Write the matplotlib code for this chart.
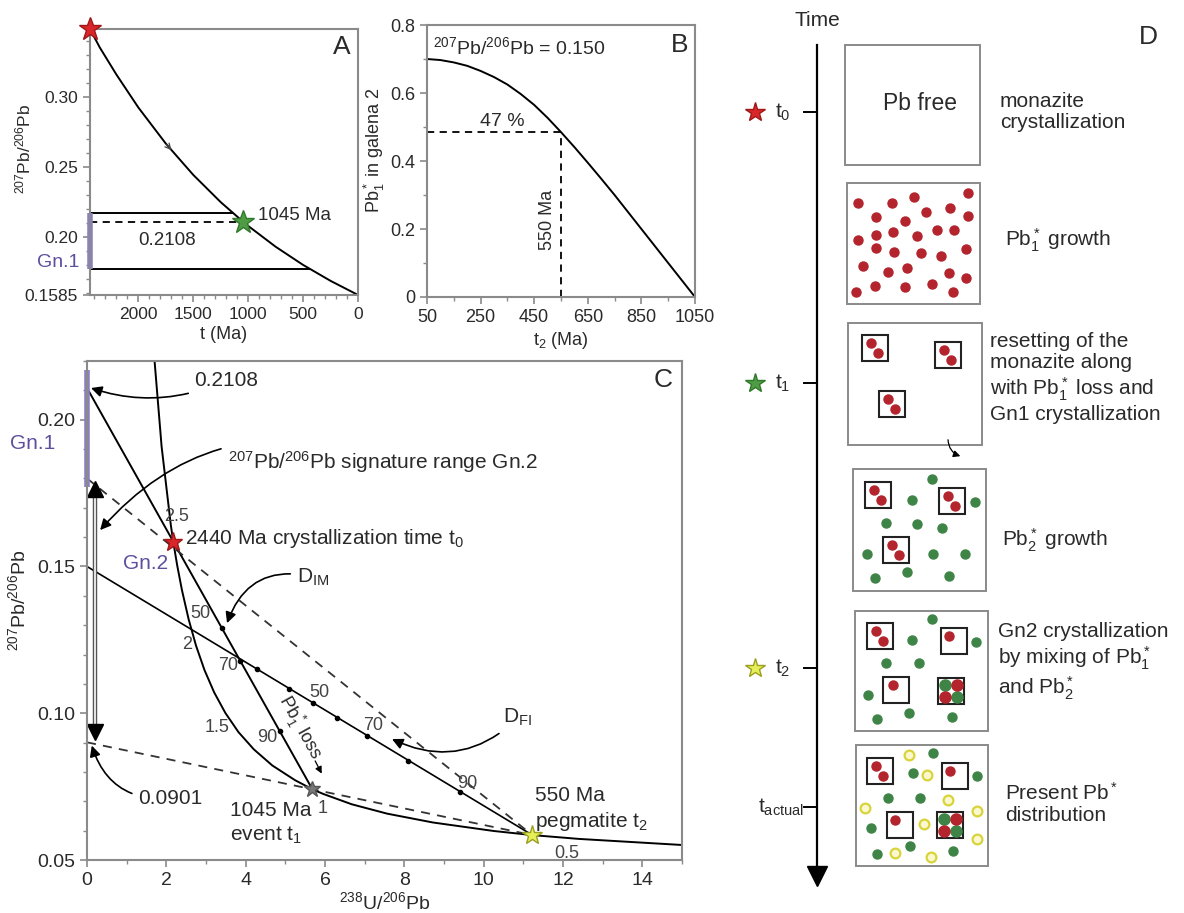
import numpy as np
import matplotlib
matplotlib.use("Agg")
import matplotlib.pyplot as plt
from matplotlib.patches import Rectangle

plt.rcParams['font.family'] = ['Liberation Sans', 'DejaVu Sans']
plt.rcParams['mathtext.fontset'] = 'custom'
plt.rcParams['mathtext.rm'] = 'Liberation Sans'
plt.rcParams['mathtext.it'] = 'Liberation Sans:italic'
plt.rcParams['mathtext.bf'] = 'Liberation Sans:bold'

# --- DATOS ---
# Panel A: 207Pb/206Pb del plomo acumulado entre 2440 Ma y t
A_AGE = [2440, 2350, 2200, 2000, 1750, 1500, 1250, 1045, 1000, 750, 500, 250, 0]
A_RATIO = [0.3487, 0.3354, 0.3162, 0.2926, 0.2668, 0.2444, 0.2249, 0.2108,
           0.2079, 0.1930, 0.1800, 0.1686, 0.1585]
GN1_RANGE = [0.177, 0.217]
GN1_LINE_END = [440, 1135]
T0_AGE = 2440
T1_AGE = 1045
T1_RATIO = 0.2108

# Panel B: fraccion de Pb1* en galena 2 frente a t2
B_T2 = [50, 100, 150, 200, 250, 300, 350, 400, 450, 500, 550, 600, 650, 700,
        750, 800, 850, 900, 950, 1000, 1050]
B_FRAC = [0.700, 0.697, 0.690, 0.680, 0.665, 0.647, 0.625, 0.597, 0.565, 0.527,
          0.485, 0.441, 0.395, 0.348, 0.300, 0.250, 0.200, 0.150, 0.100, 0.050, 0.0]
T2_AGE = 550
T2_FRAC = 0.485
MIX_RATIO = 0.150

# Panel C: diagrama Tera-Wasserburg
CONC_X = [1.687, 1.880, 2.111, 2.173, 2.273, 2.394, 2.562, 2.749, 2.962, 3.206,
          3.488, 3.817, 4.206, 4.673, 5.245, 5.682, 5.959, 6.674, 7.568, 8.718,
          10.252, 11.227, 12.40, 15.04]
CONC_Y = [0.2226, 0.1909, 0.1643, 0.1585, 0.1504, 0.1419, 0.1320, 0.1230, 0.1147,
          0.1071, 0.1001, 0.0936, 0.0877, 0.0822, 0.0772, 0.0741, 0.0725, 0.0690,
          0.0658, 0.0628, 0.0599, 0.0585, 0.0572, 0.0551]
T0_PT = (2.173, 0.1585)
T1_PT = (5.682, 0.0741)
T2_PT = (11.227, 0.0585)
INTERCEPT_PB1 = 0.2108
INTERCEPT_UP = 0.180
INTERCEPT_LOW = 0.0901
INTERCEPT_MIX = 0.150
DIM_DOTS_X = [3.40, 3.86, 4.86]
DIM_DOTS_Y = [0.1290, 0.1179, 0.0938]
DFI_DOTS_X = [4.28, 5.10, 5.70, 6.30, 7.05, 8.10, 9.40]
DFI_DOTS_Y = [0.1150, 0.1083, 0.1034, 0.0985, 0.0924, 0.0838, 0.0732]

# Panel D: esquema (coordenadas en pixeles de la figura)
BOXES = [(845, 45, 135, 120), (847, 183, 133, 121), (848, 323, 134, 122),
         (853, 469, 133, 122), (855, 611, 133, 120), (856, 745, 132, 121)]
TIME_Y = [112, 383, 668, 807]
RED_DOTS_2 = [(858, 203), (892, 203), (914, 197), (950, 208), (968, 193), (876, 217),
              (926, 212), (905, 221), (968, 216), (937, 230), (954, 230), (858, 240),
              (876, 235), (893, 232), (917, 236), (876, 248), (894, 252), (921, 253),
              (941, 256), (966, 249), (863, 266), (907, 268), (888, 272), (949, 273),
              (966, 278), (856, 292), (875, 286), (905, 287), (932, 284), (953, 292)]
SQ_3 = [(862, 335), (935, 342), (879, 391)]
SQ_4 = [(865, 482), (939, 488), (883, 537)]
SQ_5 = [(867, 623), (941, 628), (883, 677)]
SQ_5_MIX = (938, 678)
SQ_6 = [(867, 758), (942, 763), (887, 812)]
SQ_6_MIX = (937, 812)
GREEN_4 = [(932, 479), (912, 500), (975, 502), (886, 523), (917, 524), (942, 528),
           (867, 554), (933, 554), (965, 554), (875, 578), (907, 572), (949, 576)]
GREEN_5 = [(932, 619), (912, 640), (976, 642), (886, 663), (919, 663), (868, 695),
           (909, 713), (877, 719), (952, 717)]
GREEN_6 = [(933, 753), (913, 773), (977, 776), (888, 798), (920, 798), (871, 828),
           (910, 846), (877, 854), (953, 851)]
YELLOW_6 = [(909, 755), (927, 775), (948, 800), (865, 808), (924, 824), (977, 811),
            (977, 839), (895, 853), (931, 857)]

GRAY = '#8a8a8a'
TXT = '#2a2a2a'
PURPLE = '#5e4f9e'
PURPLE_BAR = '#8b7fc4'
RED = '#d8262b'
DOT_RED = '#b3242c'
GREEN = '#4f9c45'
DOT_GREEN = '#3f8447'
YELLOW = '#e6ee58'


def estilo(ax, size):
    for s in ax.spines.values():
        s.set_color(GRAY)
        s.set_linewidth(1.5)
    ax.tick_params(which='both', direction='out', color=GRAY, labelcolor=TXT,
                   labelsize=size)
    ax.tick_params(which='major', length=5, width=1.2)
    ax.tick_params(which='minor', length=3, width=1.0)


fig = plt.figure(figsize=(11.84, 9.13), dpi=100)

# --- PANEL A ---
axA = fig.add_axes([0.0760, 0.6769, 0.2264, 0.2913])
estilo(axA, 12.5)
axA.plot(A_AGE, A_RATIO, color='k', lw=1.4)
axA.set_xlim(2440, 0)
axA.set_ylim(0.1585, 0.3487)
axA.set_xticks([2000, 1500, 1000, 500, 0])
axA.set_xticks(np.arange(0, 2441, 100), minor=True)
axA.set_yticks([0.1585, 0.20, 0.25, 0.30])
axA.set_yticklabels(['0.1585', '0.20', '0.25', '0.30'])
axA.set_yticks(np.arange(0.16, 0.35, 0.01), minor=True)
axA.hlines(GN1_RANGE[1], T0_AGE, GN1_LINE_END[1], color='k', lw=1.4)
axA.hlines(GN1_RANGE[0], T0_AGE, GN1_LINE_END[0], color='k', lw=1.4)
axA.hlines(T1_RATIO, T0_AGE, T1_AGE, color='k', lw=1.3, linestyles=(0, (4, 3)))
axA.plot([T0_AGE, T0_AGE], GN1_RANGE, color=PURPLE_BAR, lw=4, clip_on=False,
         solid_capstyle='butt')
axA.plot(T0_AGE, A_RATIO[0], marker='*', ms=17, color=RED, mec='#a01818',
         clip_on=False, zorder=5)
axA.plot(T1_AGE, T1_RATIO, marker='*', ms=17, color=GREEN, mec='#2f7a2a', zorder=5)
axA.annotate('', xy=(1680, 0.2606), xytext=(1760, 0.2676),
             arrowprops=dict(arrowstyle='->', lw=0.9, color='#444'))
axA.text(910, 0.2157, '1045 Ma', fontsize=13.5, color=TXT, va='center', ha='left')
axA.text(1739, 0.1978, '0.2108', fontsize=13.5, color=TXT, va='center', ha='center')
axA.text(2540, 0.1815, 'Gn.1', fontsize=14, color=PURPLE, va='center', ha='right',
         clip_on=False)
axA.text(146, 0.3358, 'A', fontsize=19, color=TXT, va='center', ha='center')
axA.set_ylabel(r'$^{207}$Pb/$^{206}$Pb', fontsize=12.5, color=TXT)
axA.yaxis.set_label_coords(-0.21, 0.55)
axA.set_xlabel('t (Ma)', fontsize=13, color=TXT, labelpad=3)

# --- PANEL B ---
axB = fig.add_axes([0.3606, 0.6747, 0.2264, 0.2979])
estilo(axB, 13)
axB.plot(B_T2, B_FRAC, color='k', lw=1.4)
axB.set_xlim(50, 1050)
axB.set_ylim(0, 0.8)
axB.set_xticks([50, 250, 450, 650, 850, 1050])
axB.set_xticks([150, 350, 550, 750, 950], minor=True)
axB.set_yticks([0, 0.2, 0.4, 0.6, 0.8])
axB.set_yticklabels(['0', '0.2', '0.4', '0.6', '0.8'])
axB.set_yticks([0.1, 0.3, 0.5, 0.7], minor=True)
axB.hlines(T2_FRAC, 50, T2_AGE, color='k', lw=1.3, linestyles=(0, (4, 3)))
axB.vlines(T2_AGE, 0, T2_FRAC, color='k', lw=1.3, linestyles=(0, (4, 3)))
axB.text(72, 0.735, r'$^{207}$Pb/$^{206}$Pb = 0.150', fontsize=14, color=TXT,
         va='center', ha='left')
axB.text(330, 0.515, '47 %', fontsize=14, color=TXT, va='center', ha='center')
axB.text(500, 0.226, '550 Ma', fontsize=13, color=TXT, va='center', ha='center',
         rotation=90)
axB.text(994, 0.741, 'B', fontsize=19, color=TXT, va='center', ha='center')
axB.set_ylabel(r'Pb$_1^*$ in galena 2', fontsize=13, color=TXT)
axB.yaxis.set_label_coords(-0.15, 0.54)
axB.set_xlabel(r't$_2$ (Ma)', fontsize=13, color=TXT, labelpad=3)

# --- PANEL C ---
axC = fig.add_axes([0.0735, 0.0580, 0.5025, 0.5466])
estilo(axC, 14)
axC.set_xlim(0, 15)
axC.set_ylim(0.05, 0.22)
axC.set_xticks(np.arange(0, 15, 2))
axC.set_xticks(np.arange(0, 16, 1), minor=True)
axC.set_yticks([0.05, 0.10, 0.15, 0.20])
axC.set_yticklabels(['0.05', '0.10', '0.15', '0.20'])
axC.set_yticks(np.arange(0.05, 0.221, 0.01), minor=True)

axC.plot(CONC_X, CONC_Y, color='k', lw=1.4)
axC.plot([0, T1_PT[0]], [INTERCEPT_PB1, T1_PT[1]], color='k', lw=1.4)
axC.plot([0, T2_PT[0]], [INTERCEPT_MIX, T2_PT[1]], color='k', lw=1.2)
axC.plot([0, T2_PT[0]], [INTERCEPT_UP, T2_PT[1]], color='#333', lw=1.3,
         ls=(0, (5, 4)))
axC.plot([0, T2_PT[0]], [INTERCEPT_LOW, T2_PT[1]], color='#333', lw=1.3,
         ls=(0, (5, 4)))
axC.plot(DIM_DOTS_X, DIM_DOTS_Y, 'o', color='k', ms=3)
axC.plot(DFI_DOTS_X, DFI_DOTS_Y, 'o', color='k', ms=3)
axC.plot([0, 0], GN1_RANGE, color=PURPLE_BAR, lw=4, clip_on=False,
         solid_capstyle='butt')
# rango Gn.2
axC.plot([0.2, 0.2], [INTERCEPT_LOW + 0.004, INTERCEPT_UP - 0.004], color='#555',
         lw=3.2, solid_capstyle='butt')
axC.plot([0.2, 0.2], [INTERCEPT_LOW + 0.004, INTERCEPT_UP - 0.004], color='white',
         lw=1.2, solid_capstyle='butt')
axC.plot(0.2, INTERCEPT_UP - 0.0035, marker='^', ms=11, color='k')
axC.plot(0.2, INTERCEPT_LOW + 0.0035, marker='v', ms=11, color='k')

axC.plot(*T0_PT, marker='*', ms=14, color=RED, mec='#a01818', zorder=5)
axC.plot(*T1_PT, marker='*', ms=12, color='#777777', mec='#555', zorder=5)
axC.plot(*T2_PT, marker='*', ms=15, color=YELLOW, mec='#9aa020', zorder=5)

arw = dict(arrowstyle='-|>', color='k', lw=1.2, mutation_scale=16, shrinkA=3,
           shrinkB=0)
axC.annotate('0.2108', xy=(0.1, INTERCEPT_PB1), xytext=(2.7, 0.2135), fontsize=15,
             color=TXT, va='center', ha='left',
             arrowprops=dict(arw, connectionstyle='arc3,rad=-0.2'))
axC.annotate(r'$^{207}$Pb/$^{206}$Pb signature range Gn.2', xy=(0.33, 0.1624),
             xytext=(3.55, 0.1856), fontsize=15, color=TXT, va='center', ha='left',
             arrowprops=dict(arw, connectionstyle='arc3,rad=0.35'))
axC.annotate(r'D$_{\rm IM}$', xy=(3.53, 0.1307), xytext=(5.3, 0.1464), fontsize=15,
             color=TXT, va='center', ha='left',
             arrowprops=dict(arw, connectionstyle='arc3,rad=0.45'))
axC.annotate(r'D$_{\rm FI}$', xy=(7.69, 0.0912), xytext=(10.5, 0.0985), fontsize=15,
             color=TXT, va='center', ha='left',
             arrowprops=dict(arw, connectionstyle='arc3,rad=-0.35'))
axC.annotate('0.0901', xy=(0.12, 0.0890), xytext=(1.3, 0.0711), fontsize=15,
             color=TXT, va='center', ha='left',
             arrowprops=dict(arw, connectionstyle='arc3,rad=-0.4'))
axC.annotate('', xy=(5.95, 0.0786), xytext=(5.72, 0.0846),
             arrowprops=dict(arrowstyle='-|>', color='k', lw=0.9, mutation_scale=10))

axC.text(2.47, 0.1597, r'2440 Ma crystallization time t$_0$', fontsize=15,
         color=TXT, va='center', ha='left')
axC.text(3.6, 0.0670, '1045 Ma', fontsize=15, color=TXT, va='center', ha='left')
axC.text(3.6, 0.0585, r'event t$_1$', fontsize=15, color=TXT, va='center', ha='left')
axC.text(11.3, 0.0721, '550 Ma', fontsize=15, color=TXT, va='center', ha='left')
axC.text(11.3, 0.0630, r'pegmatite t$_2$', fontsize=15, color=TXT, va='center',
         ha='left')
axC.text(5.38, 0.0950, r'Pb$_1^*$ loss', fontsize=13, color=TXT, va='center',
         ha='center', rotation=-61, rotation_mode='anchor')
axC.text(0.9, 0.151, 'Gn.2', fontsize=15, color=PURPLE, va='center', ha='left')
axC.text(-0.8, 0.192, 'Gn.1', fontsize=15, color=PURPLE, va='center', ha='right',
         clip_on=False)
for x, y, s in [(2.27, 0.1669, '2.5'), (2.52, 0.1233, '2'), (3.28, 0.0953, '1.5'),
                (5.95, 0.0677, '1'), (12.1, 0.0524, '0.5'), (2.85, 0.1340, '50'),
                (3.55, 0.1164, '70'), (4.54, 0.0919, '90'), (5.87, 0.1072, '50'),
                (7.21, 0.0960, '70'), (9.58, 0.0762, '90')]:
    axC.text(x, y, s, fontsize=13, color='#444', va='center', ha='center')
axC.text(14.52, 0.2135, 'C', fontsize=19, color=TXT, va='center', ha='center')
axC.set_xlabel(r'$^{238}$U/$^{206}$Pb', fontsize=14, color=TXT, labelpad=2)
axC.set_ylabel(r'$^{207}$Pb/$^{206}$Pb', fontsize=14, color=TXT)
axC.yaxis.set_label_coords(-0.098, 0.52)

# --- PANEL D ---
axD = fig.add_axes([740 / 1184, 0, 444 / 1184, 1])
axD.set_xlim(740, 1184)
axD.set_ylim(913, 0)
axD.axis('off')

axD.text(817, 20, 'Time', fontsize=15, color=TXT, ha='center', va='center')
axD.plot([817, 817], [45, 872], color='k', lw=1.6)
axD.plot(817, 876, marker='v', ms=14, color='k')
for y in TIME_Y:
    axD.plot([804, 817], [y, y], color='k', lw=1.4)
axD.text(783, TIME_Y[0], r't$_0$', fontsize=15, color=TXT, ha='center', va='center')
axD.text(783, TIME_Y[1], r't$_1$', fontsize=15, color=TXT, ha='center', va='center')
axD.text(783, TIME_Y[2], r't$_2$', fontsize=15, color=TXT, ha='center', va='center')
axD.text(758, TIME_Y[3], r't$_{\rm actual}$', fontsize=15, color=TXT, ha='left',
         va='center')
axD.plot(755, TIME_Y[0], marker='*', ms=15, color=RED, mec='#a01818')
axD.plot(755, TIME_Y[1], marker='*', ms=15, color=GREEN, mec='#2f7a2a')
axD.plot(755, TIME_Y[2], marker='*', ms=15, color=YELLOW, mec='#9aa020')

for x, y, w, h in BOXES:
    axD.add_patch(Rectangle((x, y), w, h, fill=False, ec=GRAY, lw=1.4))


def cuadros(lista):
    for x, y in lista:
        axD.add_patch(Rectangle((x, y), 26, 26, fill=False, ec='#222', lw=1.5))


def puntos(lista, color, ms=6.5):
    xs = [p[0] for p in lista]
    ys = [p[1] for p in lista]
    axD.plot(xs, ys, 'o', color=color, ms=ms, mec=color, ls='none')


def mezcla(x, y):
    axD.add_patch(Rectangle((x, y), 26, 26, fill=False, ec='#222', lw=1.5))
    puntos([(x + 7, y + 7), (x + 19, y + 19)], DOT_GREEN, 8)
    puntos([(x + 19, y + 7), (x + 7, y + 19)], DOT_RED, 8)


puntos(RED_DOTS_2, DOT_RED)
cuadros(SQ_3)
for x, y in SQ_3:
    puntos([(x + 9, y + 8), (x + 16, y + 18)], DOT_RED)
cuadros(SQ_4)
for x, y in SQ_4:
    puntos([(x + 9, y + 8), (x + 16, y + 18)], DOT_RED)
puntos(GREEN_4, DOT_GREEN)
cuadros(SQ_5)
puntos([(SQ_5[0][0] + 9, SQ_5[0][1] + 8), (SQ_5[0][0] + 16, SQ_5[0][1] + 18),
        (SQ_5[1][0] + 8, SQ_5[1][1] + 8), (SQ_5[2][0] + 10, SQ_5[2][1] + 8)], DOT_RED)
mezcla(*SQ_5_MIX)
puntos(GREEN_5, DOT_GREEN)
cuadros(SQ_6)
puntos([(SQ_6[0][0] + 9, SQ_6[0][1] + 8), (SQ_6[0][0] + 16, SQ_6[0][1] + 18),
        (SQ_6[1][0] + 8, SQ_6[1][1] + 8), (SQ_6[2][0] + 8, SQ_6[2][1] + 8)], DOT_RED)
mezcla(*SQ_6_MIX)
puntos(GREEN_6, DOT_GREEN)
axD.plot([p[0] for p in YELLOW_6], [p[1] for p in YELLOW_6], 'o', ms=7, mfc='#fbf8d0',
         mec='#d8d43a', mew=1.6, ls='none')

axD.annotate('', xy=(963, 457), xytext=(948, 437),
             arrowprops=dict(arrowstyle='-|>', color='k', lw=0.9, mutation_scale=10,
                             connectionstyle='arc3,rad=0.4'))

axD.text(920, 104, 'Pb free', fontsize=16.5, color=TXT, ha='center', va='center')
axD.text(1000, 112, 'monazite\ncrystallization', fontsize=15, color=TXT, ha='left',
         va='center', linespacing=1.15)
axD.text(1005, 240, r'Pb$_1^*$ growth', fontsize=15, color=TXT, ha='left',
         va='center')
axD.text(990, 378, 'resetting of the\nmonazite along\n'
         r'with Pb$_1^*$ loss and' '\nGn1 crystallization', fontsize=15, color=TXT,
         ha='left', va='center', linespacing=1.15)
axD.text(1002, 540, r'Pb$_2^*$ growth', fontsize=15, color=TXT, ha='left',
         va='center')
axD.text(998, 662, 'Gn2 crystallization\n' r'by mixing of Pb$_1^*$' '\n'
         r'and Pb$_2^*$', fontsize=15, color=TXT, ha='left', va='center',
         linespacing=1.15)
axD.text(1005, 803, 'Present Pb$^*$\ndistribution', fontsize=15, color=TXT,
         ha='left', va='center', linespacing=1.15)
axD.text(1148, 37, 'D', fontsize=19, color=TXT, ha='center', va='center')

fig.savefig('out.png', dpi=100, facecolor='white')
